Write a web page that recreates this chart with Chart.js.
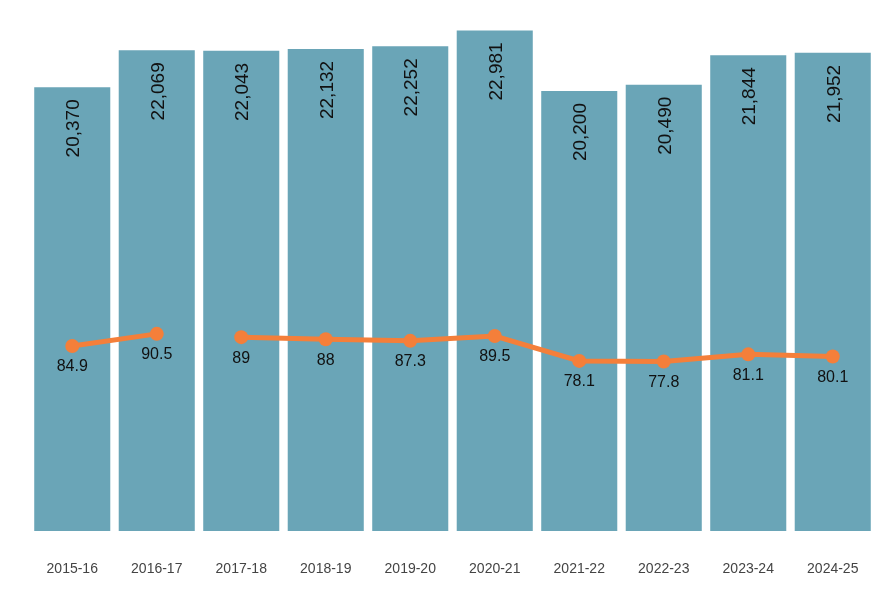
<!DOCTYPE html>
<html lang="en">
<head>
    <meta charset="UTF-8">
    <title>Totals and rate by year</title>
    <script src="https://cdn.jsdelivr.net/npm/chart.js"></script>
    <style>
        body {
            margin: 0;
            background: #fff;
        }
        #chart {
            display: block;
        }
    </style>
</head>
<body>
    <canvas id="chart" width="890" height="600"></canvas>

    <script>
        // data
        const years = ['2015-16', '2016-17', '2017-18', '2018-19', '2019-20', '2020-21', '2021-22', '2022-23', '2023-24', '2024-25'];
        const totals = [20370, 22069, 22043, 22132, 22252, 22981, 20200, 20490, 21844, 21952];
        const rates = [84.9, 90.5, 89, 88, 87.3, 89.5, 78.1, 77.8, 81.1, 80.1];
        // the line is not joined between these two years
        const lineBreaks = [['2016-17', '2017-18']];

        const barColor = '#6aa5b7';
        const lineColor = '#f47f3a';

        const isBreak = (i) => lineBreaks.some(b => years[i] === b[0] && years[i + 1] === b[1]);

        // simple label drawing (no datalabels plugin available)
        const valueLabels = {
            id: 'valueLabels',
            afterDatasetsDraw(chart) {
                const ctx = chart.ctx;
                ctx.save();
                ctx.fillStyle = '#111';

                const bars = chart.getDatasetMeta(1).data;
                ctx.font = '19px "Liberation Sans", Arial, sans-serif';
                ctx.textAlign = 'right';
                ctx.textBaseline = 'middle';
                bars.forEach((bar, i) => {
                    ctx.save();
                    ctx.translate(bar.x + 2, bar.y + 12);
                    ctx.rotate(-Math.PI / 2);
                    ctx.fillText(totals[i].toLocaleString('en-US'), 0, 0);
                    ctx.restore();
                });

                const pts = chart.getDatasetMeta(0).data;
                ctx.font = '16px "Liberation Sans", Arial, sans-serif';
                ctx.textAlign = 'center';
                pts.forEach((p, i) => {
                    ctx.fillText(String(rates[i]), p.x, p.y + 21);
                });
                ctx.restore();
            }
        };

        new Chart(document.getElementById('chart'), {
            type: 'bar',
            data: {
                labels: years,
                datasets: [{
                    type: 'line',
                    data: rates,
                    yAxisID: 'y1',
                    order: 0,
                    borderColor: lineColor,
                    backgroundColor: lineColor,
                    borderWidth: 5,
                    pointRadius: 7,
                    pointBackgroundColor: lineColor,
                    pointBorderWidth: 0,
                    tension: 0,
                    segment: {
                        borderColor: c => isBreak(c.p0DataIndex) ? 'rgba(0,0,0,0)' : lineColor
                    }
                }, {
                    type: 'bar',
                    data: totals,
                    yAxisID: 'y',
                    order: 1,
                    backgroundColor: barColor,
                    barPercentage: 0.9,
                    categoryPercentage: 1.0
                }]
            },
            options: {
                responsive: false,
                animation: false,
                layout: {
                    padding: { left: 30, right: 15, top: 30, bottom: 0 }
                },
                plugins: {
                    legend: { display: false },
                    tooltip: { enabled: false }
                },
                scales: {
                    x: {
                        grid: { display: false, drawTicks: false },
                        border: { display: false },
                        afterFit: s => { s.height = 69; },
                        ticks: {
                            color: '#444',
                            padding: 30,
                            font: { size: 14, family: '"Liberation Sans", Arial, sans-serif' }
                        }
                    },
                    y: {
                        display: false,
                        min: 0,
                        max: 23000
                    },
                    y1: {
                        display: false,
                        min: 0,
                        max: 230
                    }
                }
            },
            plugins: [valueLabels]
        });
    </script>
</body>
</html>
